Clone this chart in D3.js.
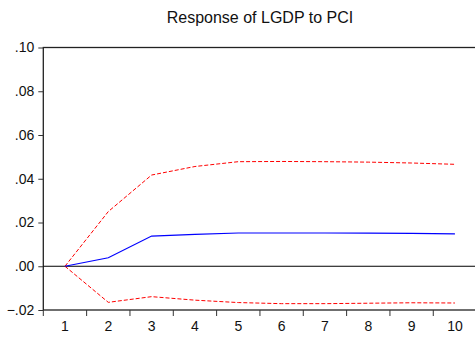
<!DOCTYPE html>
<html>
<head>
<meta charset="utf-8">
<script src="https://cdn.jsdelivr.net/npm/d3@7"></script>
<style>
  body { margin: 0; background: #fff; }
  text { font-family: Arial, "Liberation Sans", sans-serif; fill: #111; }
</style>
</head>
<body>
<div id="chart"></div>
<script>
// periods and impulse response values
var periods = ["1", "2", "3", "4", "5", "6", "7", "8", "9", "10"];
var response = [0.0, 0.0039, 0.0138, 0.0146, 0.0152, 0.0152, 0.0152, 0.0151, 0.0150, 0.0148];
var upperBand = [0.0, 0.0250, 0.0417, 0.0456, 0.0478, 0.0479, 0.0478, 0.0476, 0.0472, 0.0466];
var lowerBand = [0.0, -0.0165, -0.0139, -0.0155, -0.0166, -0.0171, -0.0171, -0.0169, -0.0167, -0.0168];
var yTicks = [-0.02, 0.00, 0.02, 0.04, 0.06, 0.08, 0.10];

var w = 475;
var h = 338;
// plot box (window.top is reserved, so use other names)
var pLeft = 43.3, pRight = 476.6, pTop = 47.5, pBottom = 310;

var svg = d3.select("#chart")
  .append("svg")
  .attr("width", w)
  .attr("height", h);

var x = d3.scaleBand()
  .domain(periods)
  .range([pLeft, pRight]);

var y = d3.scaleLinear()
  .domain([-0.02, 0.10])
  .range([pBottom, pTop]);

//title
svg.append("text")
  .attr("x", (pLeft + pRight) / 2)
  .attr("y", 23)
  .style("text-anchor", "middle")
  .style("font-size", "16px")
  .text("Response of LGDP to PCI");

//frame
svg.append("rect")
  .attr("x", pLeft)
  .attr("y", pTop)
  .attr("width", pRight - pLeft)
  .attr("height", pBottom - pTop)
  .attr("fill", "none")
  .attr("stroke", "#222")
  .attr("stroke-width", 1.3);

//y axis
var fmt = function(d) {
  return d3.format(".2f")(d).replace("0.", ".");
};
var yAxis = svg.append("g")
  .attr("transform", "translate(" + pLeft + ",0)")
  .call(d3.axisLeft(y).tickValues(yTicks).tickFormat(fmt).tickSize(5).tickSizeOuter(0));
yAxis.select(".domain").remove();
yAxis.selectAll("line").attr("stroke", "#333");
yAxis.selectAll("text")
  .attr("x", -9)
  .style("font-size", "14px")
  .style("font-family", "Arial, 'Liberation Sans', sans-serif")
  .attr("fill", "#111");

//x axis: labels at centers, ticks between periods
var xAxis = svg.append("g")
  .attr("transform", "translate(0," + pBottom + ")")
  .call(d3.axisBottom(x).tickSize(0).tickPadding(11));
xAxis.select(".domain").remove();
xAxis.selectAll("text")
  .style("font-size", "14px")
  .style("font-family", "Arial, 'Liberation Sans', sans-serif")
  .attr("fill", "#111");

svg.selectAll(".xtick")
  .data(periods)
  .enter()
  .append("line")
  .attr("class", "xtick")
  .attr("x1", function(d) { return x(d); })
  .attr("x2", function(d) { return x(d); })
  .attr("y1", pBottom)
  .attr("y2", pBottom + 6)
  .attr("stroke", "#333")
  .attr("stroke-width", 1);

//zero line
svg.append("line")
  .attr("x1", pLeft)
  .attr("x2", pRight)
  .attr("y1", y(0))
  .attr("y2", y(0))
  .attr("stroke", "#000")
  .attr("stroke-width", 1);

var line = d3.line()
  .x(function(d, i) { return x(periods[i]) + x.bandwidth() / 2; })
  .y(function(d) { return y(d); });

svg.append("path")
  .datum(upperBand)
  .attr("d", line)
  .attr("fill", "none")
  .attr("stroke", "#ff0000")
  .attr("stroke-width", 1)
  .attr("stroke-dasharray", "4,2");

svg.append("path")
  .datum(lowerBand)
  .attr("d", line)
  .attr("fill", "none")
  .attr("stroke", "#ff0000")
  .attr("stroke-width", 1)
  .attr("stroke-dasharray", "4,2");

svg.append("path")
  .datum(response)
  .attr("d", line)
  .attr("fill", "none")
  .attr("stroke", "#0000ff")
  .attr("stroke-width", 1.2);
</script>
</body>
</html>
